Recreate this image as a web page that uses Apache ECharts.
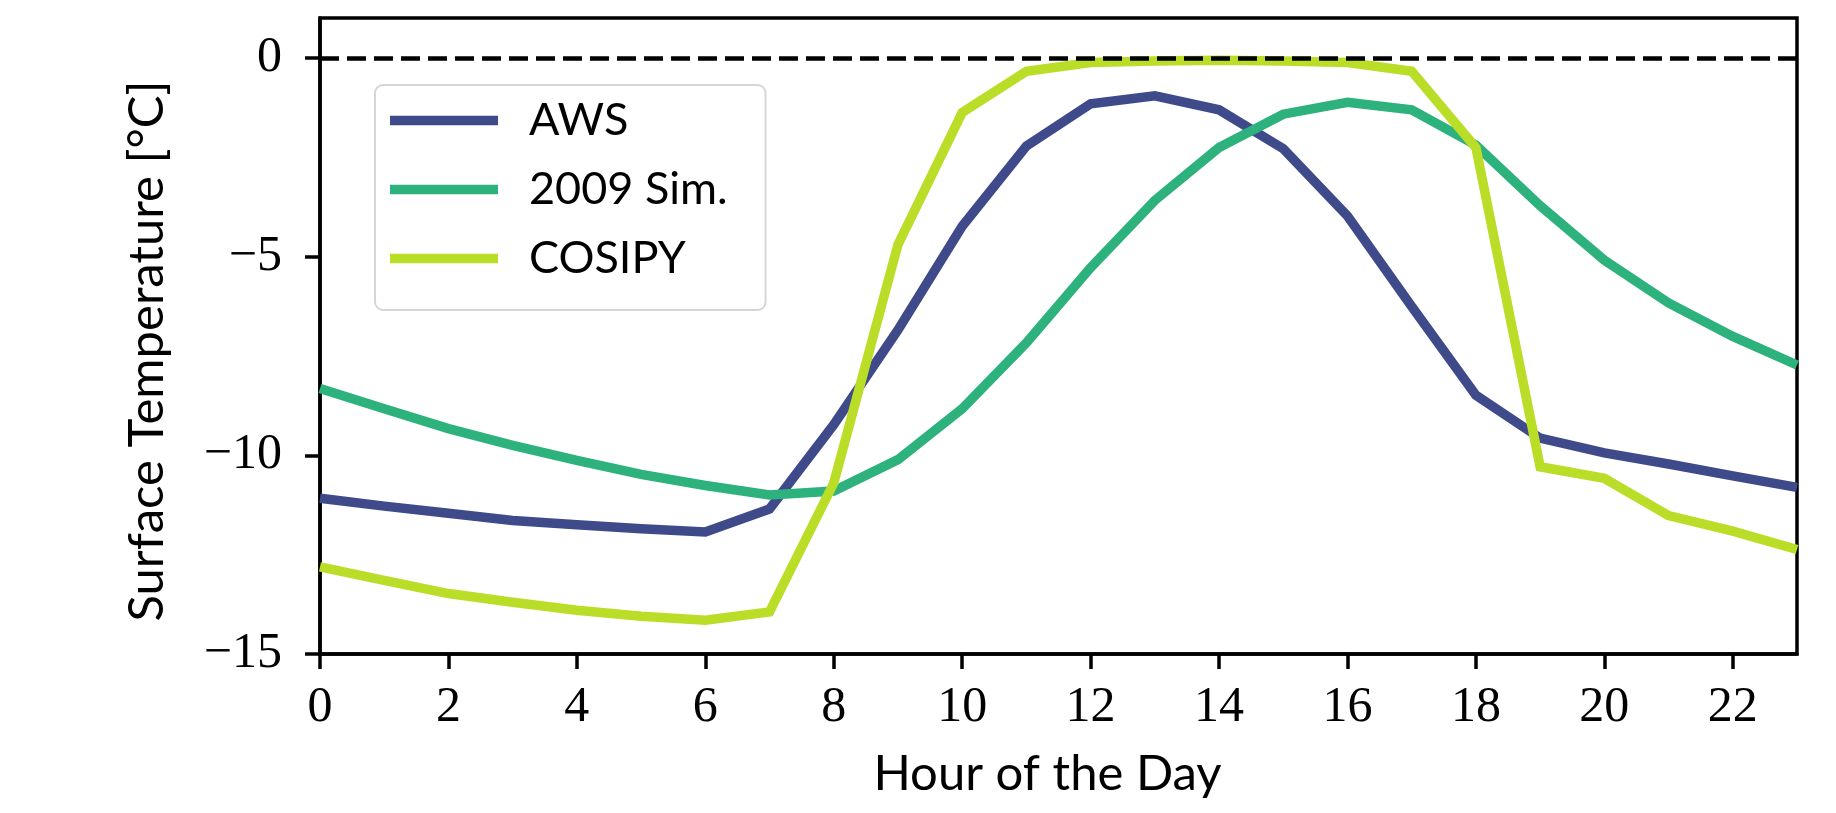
<!DOCTYPE html>
<html>
<head>
<meta charset="utf-8">
<title>Surface temperature diurnal cycle</title>
<script src="https://cdn.jsdelivr.net/npm/echarts@6/dist/echarts.min.js"></script>
<style>
    html, body { margin: 0; padding: 0; background: #fff; }
    #chart { width: 1836px; height: 813px; }
</style>
</head>
<body>
<div id="chart"></div>
<script>
// hour of the day, 0..23
const hours = [0, 1, 2, 3, 4, 5, 6, 7, 8, 9, 10, 11, 12, 13, 14, 15, 16, 17, 18, 19, 20, 21, 22, 23];

// values, in °C
const awsTemp = [-11.08, -11.28, -11.46, -11.64, -11.75, -11.85, -11.93, -11.35, -9.23, -6.85, -4.24, -2.22,
    -1.16, -0.96, -1.31, -2.29, -3.98, -6.26, -8.49, -9.57, -9.94, -10.22, -10.52, -10.81];
const sim2009Temp = [-8.32, -8.83, -9.33, -9.75, -10.13, -10.48, -10.76, -11.0, -10.9, -10.11, -8.83, -7.17,
    -5.28, -3.59, -2.26, -1.42, -1.12, -1.31, -2.2, -3.72, -5.09, -6.17, -7.01, -7.73];
const cosipyTemp = [-12.81, -13.15, -13.48, -13.7, -13.9, -14.05, -14.15, -13.94, -10.7, -4.7, -1.38, -0.34,
    -0.12, -0.08, -0.06, -0.08, -0.12, -0.34, -2.26, -10.29, -10.58, -11.52, -11.91, -12.37];

const xTicks = [0, 2, 4, 6, 8, 10, 12, 14, 16, 18, 20, 22];
const yTicks = [-15, -10, -5, 0];

const seriesNames = ['AWS', '2009 Sim.', 'COSIPY'];
const seriesColors = ['#3e4a89', '#2db27d', '#bade28'];

const pairs = (vals) => hours.map((h, i) => [h, vals[i]]);
const minusSign = (v) => String(v).replace('-', '\u2212');

const serifFont = '"Liberation Serif", "DejaVu Serif", serif';
const sansFont = 'Lato, "DejaVu Sans", sans-serif';

const chart = echarts.init(document.getElementById('chart'));

const lineSeries = (name, vals, color) => ({
    name,
    type: 'line',
    data: pairs(vals),
    showSymbol: false,
    symbol: 'none',
    lineStyle: { color, width: 9.5, join: 'miter', cap: 'butt' },
    itemStyle: { color },
    emphasis: { disabled: true },
});

const series = [
    lineSeries(seriesNames[0], awsTemp, seriesColors[0]),
    lineSeries(seriesNames[1], sim2009Temp, seriesColors[1]),
    lineSeries(seriesNames[2], cosipyTemp, seriesColors[2]),
];
// zero line, dashed, sitting under the curves
series[0].markLine = {
    silent: true,
    symbol: 'none',
    label: { show: false },
    lineStyle: { color: '#000', width: 4.5, type: [19, 8] },
    data: [{ yAxis: 0 }],
};

chart.setOption({
    animation: false,
    grid: {
        left: 320, right: 39, top: 18, bottom: 159,
        show: true, borderColor: '#000', borderWidth: 3.5, backgroundColor: 'transparent',
    },
    legend: {
        left: 375,
        top: 85,
        orient: 'vertical',
        icon: 'rect',
        itemWidth: 108,
        itemHeight: 9.5,
        itemGap: 24,
        padding: [13, 38, 29, 15],
        backgroundColor: 'rgba(255,255,255,0.8)',
        borderColor: '#d6d6d6',
        borderWidth: 2,
        borderRadius: 8,
        textStyle: {
            fontFamily: sansFont, fontSize: 45, color: '#000',
            lineHeight: 45, padding: [0, 0, 0, 26],
        },
        data: seriesNames,
    },
    xAxis: {
        type: 'value',
        min: 0,
        max: 23,
        interval: 2,
        name: 'Hour of the Day',
        nameLocation: 'middle',
        nameGap: 96,
        nameTextStyle: { fontFamily: sansFont, fontSize: 49, color: '#000', padding: [0, 22, 0, 0] },
        axisLine: { show: true, onZero: false, lineStyle: { color: '#000', width: 3.5 } },
        axisTick: { show: true, inside: false, length: 15, customValues: xTicks, lineStyle: { color: '#000', width: 3.5 } },
        axisLabel: {
            customValues: xTicks, margin: 29, formatter: minusSign,
            fontFamily: serifFont, fontSize: 50, color: '#000',
        },
        splitLine: { show: false },
    },
    yAxis: {
        type: 'value',
        min: -15,
        max: 1,
        interval: 5,
        name: 'Surface Temperature [°C]',
        nameLocation: 'middle',
        nameGap: 148,
        nameTextStyle: { fontFamily: sansFont, fontSize: 49, color: '#000', padding: [0, 30, 0, 0] },
        axisLine: { show: true, onZero: false, lineStyle: { color: '#000', width: 3.5 } },
        axisTick: { show: true, inside: false, length: 15, customValues: yTicks, lineStyle: { color: '#000', width: 3.5 } },
        axisLabel: {
            customValues: yTicks, margin: 38, formatter: minusSign,
            fontFamily: serifFont, fontSize: 50, color: '#000',
        },
        splitLine: { show: false },
    },
    series,
});
</script>
</body>
</html>
